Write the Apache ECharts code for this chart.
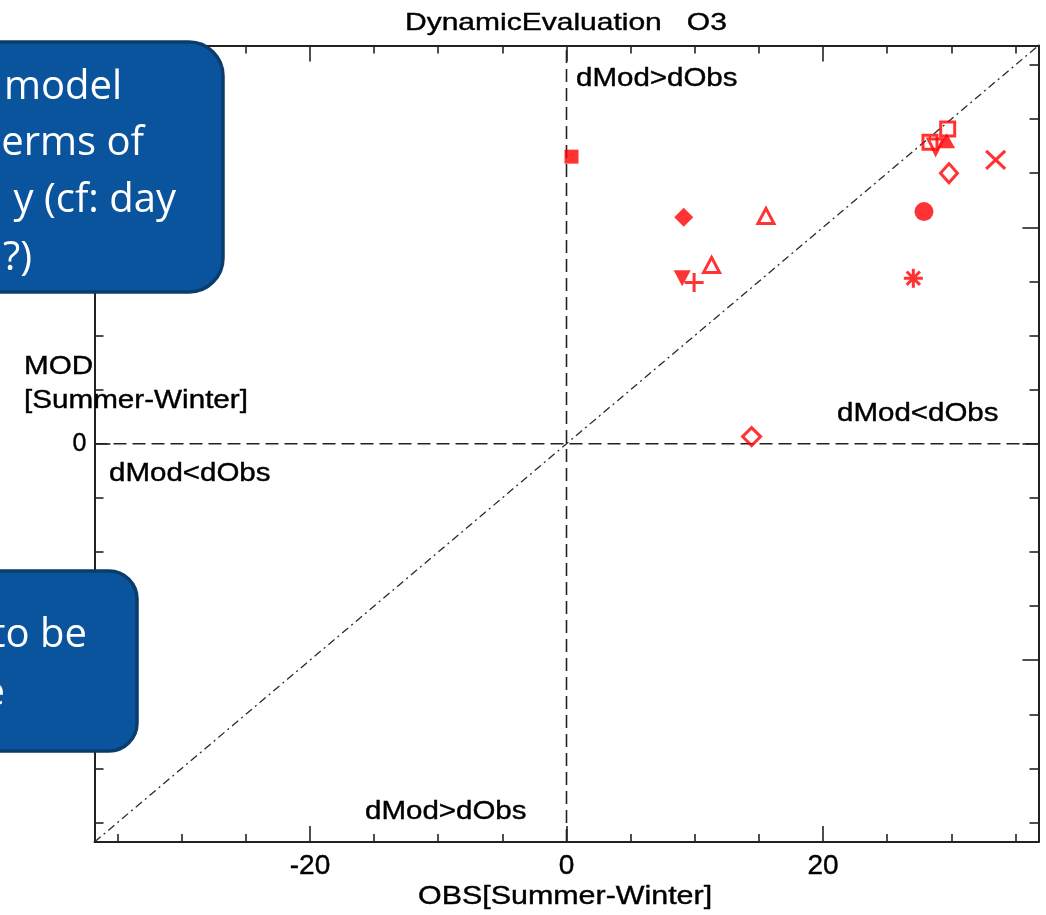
<!DOCTYPE html>
<html>
<head>
<meta charset="utf-8">
<title>DynamicEvaluation O3</title>
<script src="https://cdn.jsdelivr.net/npm/echarts@6/dist/echarts.min.js"></script>
<style>
  html, body { margin: 0; padding: 0; background: #ffffff; }
  #chart { width: 1046px; height: 915px; }
</style>
</head>
<body>
<div id="chart"></div>
<script>
// Summer-minus-winter O3 differences: observed (x) vs modelled (y), one point per model
const obsDiff = [0.39, 9.14, 15.55, 9.02, 9.95, 11.31, 28.34, 28.78, 29.72, 29.64, 29.82, 33.46, 27.87, 27.04, 14.43];
const modDiff = [26.53, 20.93, 21.05, 15.30, 14.89, 16.52, 27.87, 27.46, 29.09, 28.01, 25.00, 26.23, 21.45, 15.30, 0.66];

// Axis extent (symmetric, same on both axes) and tick positions
const axisRange = 36.8;
const majorTicks = [-20, 0, 20];
const minorTicks = [-35, -30, -25, -15, -10, -5, 5, 10, 15, 25, 30, 35];

// Quadrant annotations and titles
const quadrantText = { upper: 'dMod>dObs', lower: 'dMod<dObs' };
const titleText = 'DynamicEvaluation   O3';
const xTitle = 'OBS[Summer-Winter]';
const yTitleLines = ['MOD', '[Summer-Winter]'];

// Callout fragments (white text in the blue boxes)
const calloutTopLines = ['model', 'erms of', 'y (cf: day', '?)'];
const calloutBottomLines = ['to be', 'e'];

// ---- styling ----
const RED = '#ff0000';
const FRAME = '#222222';
const open = (w) => ({ color: 'rgba(0,0,0,0)', borderColor: RED, borderWidth: w || 3 });
const solid = { color: RED };
const PLUS = 'path://M0,5H10M5,0V10';
const CROSS = 'path://M0,0L10,10M10,0L0,10';
const STAR = 'path://M5,0V10M0,5H10M1.5,1.5L8.5,8.5M8.5,1.5L1.5,8.5';

// marker look for each model, same order as the data arrays
const markerStyles = [
  { symbol: 'rect', symbolSize: 14, itemStyle: solid },
  { symbol: 'diamond', symbolSize: [19, 19], itemStyle: solid },
  { symbol: 'triangle', symbolSize: [16, 15], itemStyle: open() },
  { symbol: 'triangle', symbolSize: [17, 16], symbolRotate: 180, itemStyle: solid },
  { symbol: PLUS, symbolSize: 19, itemStyle: open(3) },
  { symbol: 'triangle', symbolSize: [16, 15], itemStyle: open() },
  { symbol: 'rect', symbolSize: 14, itemStyle: open() },
  { symbol: 'triangle', symbolSize: [15, 15], symbolRotate: 180, itemStyle: open() },
  { symbol: 'rect', symbolSize: 14, itemStyle: open() },
  { symbol: 'triangle', symbolSize: [17, 15], itemStyle: solid },
  { symbol: 'diamond', symbolSize: [17, 19], itemStyle: open() },
  { symbol: CROSS, symbolSize: [19, 18], itemStyle: open(3) },
  { symbol: 'circle', symbolSize: 19, itemStyle: solid },
  { symbol: STAR, symbolSize: 19, itemStyle: open(3) },
  { symbol: 'diamond', symbolSize: [18, 18], itemStyle: open() }
];

const points = obsDiff.map((x, i) => Object.assign({ value: [x, modDiff[i]] }, markerStyles[i]));

function axis(position, ticks, tickLen, showLine, label) {
  return {
    type: 'value',
    position: position,
    min: -axisRange,
    max: axisRange,
    axisLine: { show: showLine, onZero: false, lineStyle: { color: FRAME, width: 2 } },
    axisTick: { show: true, inside: true, length: tickLen, customValues: ticks, lineStyle: { color: FRAME, width: 1.6 } },
    axisLabel: label || { show: false },
    splitLine: { show: false },
    minorTick: { show: false }
  };
}

const labelFont = { fontFamily: 'Liberation Sans', color: '#000', textBorderColor: '#000', textBorderWidth: 0.4 };
const xLabel = Object.assign({ show: true, customValues: majorTicks, fontSize: 28, margin: 10 }, labelFont);
const yLabel = Object.assign({ show: true, customValues: majorTicks, fontSize: 25, margin: 8 }, labelFont);

function chartText(x, y, text, size, scaleX, align) {
  return {
    type: 'text', x: x, y: y, scaleX: scaleX, z: 20,
    style: {
      text: text, fill: '#000', stroke: '#000', lineWidth: 0.4,
      font: size + 'px "Liberation Sans", Arial, sans-serif',
      align: align || 'left', textAlign: align || 'left',
      verticalAlign: 'middle', textVerticalAlign: 'middle'
    }
  };
}

function calloutText(x, y, text) {
  return {
    type: 'text', x: x, y: y, z: 120,
    style: {
      text: text, fill: '#ffffff',
      font: '40px "Open Sans", sans-serif',
      align: 'right', textAlign: 'right',
      verticalAlign: 'middle', textVerticalAlign: 'middle'
    }
  };
}

const chart = echarts.init(document.getElementById('chart'));
chart.setOption({
  animation: false,
  backgroundColor: '#ffffff',
  grid: { left: 94.5, top: 45.5, width: 944, height: 796.5, containLabel: false },
  xAxis: [
    axis('bottom', majorTicks, 16, true, xLabel),
    axis('bottom', minorTicks, 8, false),
    axis('top', majorTicks, 16, true),
    axis('top', minorTicks, 8, false)
  ],
  yAxis: [
    axis('left', majorTicks, 16, true, yLabel),
    axis('left', minorTicks, 9, false),
    axis('right', majorTicks, 16, true),
    axis('right', minorTicks, 9, false)
  ],
  series: [
    {
      type: 'line', silent: true, symbol: 'none', z: 1,
      data: [[-axisRange, 0], [axisRange, 0]],
      lineStyle: { color: '#222222', width: 1.6, type: [13, 6] }
    },
    {
      type: 'line', silent: true, symbol: 'none', z: 1,
      data: [[0, -axisRange], [0, axisRange]],
      lineStyle: { color: '#222222', width: 1.6, type: [13, 6] }
    },
    {
      type: 'line', silent: true, symbol: 'none', z: 1,
      data: [[-axisRange, -axisRange], [axisRange, axisRange]],
      lineStyle: { color: '#2a2a2a', width: 1.3, type: [8, 4, 2, 4] }
    },
    {
      type: 'scatter', z: 5, silent: true,
      data: points
    }
  ],
  graphic: [
    chartText(405, 23, titleText, 24, 1.25),
    chartText(576, 79.5, quadrantText.upper, 25, 1.18),
    chartText(365, 812, quadrantText.upper, 25, 1.18),
    chartText(109, 474, quadrantText.lower, 25, 1.18),
    chartText(837, 414.5, quadrantText.lower, 25, 1.18),
    chartText(418, 897, xTitle, 26, 1.17),
    chartText(24, 367, yTitleLines[0], 26, 1.14),
    chartText(24, 401, yTitleLines[1], 26, 1.14),
    // upper callout box
    {
      type: 'rect', z: 100,
      shape: { x: -60, y: 42, width: 283, height: 250, r: 34 },
      style: { fill: '#0a549e', stroke: '#0b3c6e', lineWidth: 3.5 }
    },
    calloutText(122, 88, calloutTopLines[0]),
    calloutText(144, 144, calloutTopLines[1]),
    calloutText(176, 201, calloutTopLines[2]),
    calloutText(32, 259, calloutTopLines[3]),
    // lower callout box
    {
      type: 'rect', z: 100,
      shape: { x: -60, y: 571, width: 197, height: 180, r: 28 },
      style: { fill: '#0a549e', stroke: '#0b3c6e', lineWidth: 3.5 }
    },
    calloutText(87, 636, calloutBottomLines[0]),
    calloutText(5, 694, calloutBottomLines[1])
  ]
});
</script>
</body>
</html>
